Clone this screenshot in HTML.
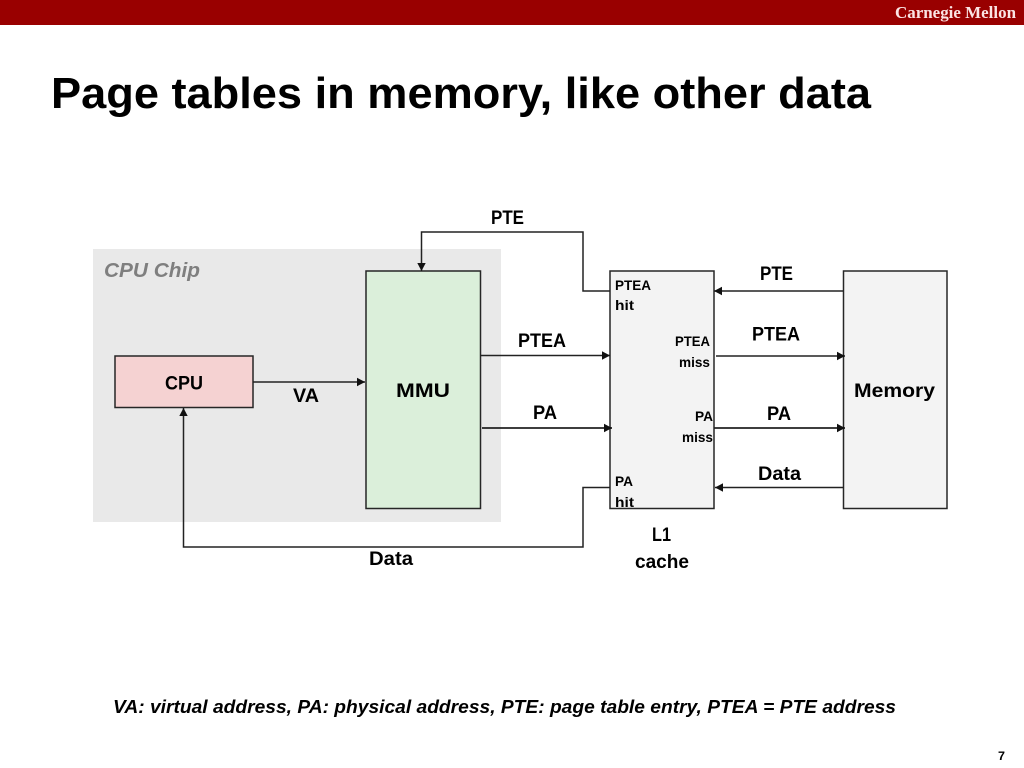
<!DOCTYPE html>
<html>
<head>
<meta charset="utf-8">
<title>Page tables in memory, like other data</title>
<style>
html,body{margin:0;padding:0;background:#fff;width:1024px;height:768px;overflow:hidden}
svg{display:block}
text{font-family:"Liberation Sans",sans-serif;font-weight:bold;fill:#000}
.l{font-size:19px}
.s{font-size:14px}
</style>
</head>
<body>
<svg width="1024" height="768" viewBox="0 0 1024 768" xmlns="http://www.w3.org/2000/svg">
<defs>
<marker id="a" markerUnits="userSpaceOnUse" markerWidth="10" markerHeight="10" refX="8" refY="5" orient="auto"><path d="M0,0.8 L8,5 L0,9.2 Z" fill="#111"/></marker>
</defs>
<rect x="0" y="0" width="1024" height="25" fill="#990000"/>
<text x="895" y="18" textLength="121" lengthAdjust="spacingAndGlyphs" style="font-family:'Liberation Serif',serif;font-size:16.500px;fill:#fbe4e4">Carnegie Mellon</text>
<text x="51" y="108" textLength="820" lengthAdjust="spacingAndGlyphs" style="font-size:44px">Page tables in memory, like other data</text>

<rect x="93" y="249" width="408" height="273" fill="#e9e9e9"/>
<text x="104" y="277" textLength="96" lengthAdjust="spacingAndGlyphs" style="font-size:20px;font-style:italic;fill:#7f7f7f">CPU Chip</text>

<rect x="115" y="356" width="138" height="51.500" fill="#f5d2d2" stroke="#262626" stroke-width="1.500"/>
<rect x="366" y="271" width="114.500" height="237.500" fill="#dbefda" stroke="#262626" stroke-width="1.500"/>
<rect x="610" y="271" width="104" height="237.500" fill="#f3f3f3" stroke="#262626" stroke-width="1.500"/>
<rect x="843.500" y="271" width="103.500" height="237.500" fill="#f3f3f3" stroke="#262626" stroke-width="1.500"/>

<g fill="none" stroke="#222" stroke-width="1.500">
<path d="M253,382 H365" marker-end="url(#a)"/>
<path d="M610,291 H583 V232 H421.500 V271" marker-end="url(#a)"/>
<path d="M480,355.500 H610" marker-end="url(#a)"/>
<path d="M482,428 H612" stroke-width="1.800" marker-end="url(#a)"/>
<path d="M610,487.500 H583 V547 H183.500 V408" marker-end="url(#a)"/>
<path d="M843.500,291 H714" marker-end="url(#a)"/>
<path d="M716,356 H845" marker-end="url(#a)"/>
<path d="M714,428 H845" stroke-width="1.800" marker-end="url(#a)"/>
<path d="M844,487.500 H715" marker-end="url(#a)"/>
</g>

<text class="l" x="165" y="389.500" textLength="38" lengthAdjust="spacingAndGlyphs">CPU</text>
<text class="l" x="396" y="397" textLength="54" lengthAdjust="spacingAndGlyphs">MMU</text>
<text class="l" x="854" y="397" textLength="81" lengthAdjust="spacingAndGlyphs">Memory</text>
<text class="l" x="293" y="402" textLength="26" lengthAdjust="spacingAndGlyphs">VA</text>
<text class="l" x="491" y="224" textLength="33" lengthAdjust="spacingAndGlyphs">PTE</text>
<text class="l" x="518" y="347" textLength="48" lengthAdjust="spacingAndGlyphs">PTEA</text>
<text class="l" x="533" y="419" textLength="24" lengthAdjust="spacingAndGlyphs">PA</text>
<text class="l" x="369" y="565" textLength="44" lengthAdjust="spacingAndGlyphs">Data</text>
<text class="l" x="760" y="280" textLength="33" lengthAdjust="spacingAndGlyphs">PTE</text>
<text class="l" x="752" y="340.500" textLength="48" lengthAdjust="spacingAndGlyphs">PTEA</text>
<text class="l" x="767" y="420" textLength="24" lengthAdjust="spacingAndGlyphs">PA</text>
<text class="l" x="758" y="480" textLength="43" lengthAdjust="spacingAndGlyphs">Data</text>
<text class="l" x="652" y="541" textLength="19" lengthAdjust="spacingAndGlyphs">L1</text>
<text class="l" x="635" y="568" textLength="54" lengthAdjust="spacingAndGlyphs">cache</text>

<text class="s" x="615" y="290" textLength="36" lengthAdjust="spacingAndGlyphs">PTEA</text>
<text class="s" x="615" y="310" textLength="19" lengthAdjust="spacingAndGlyphs">hit</text>
<text class="s" x="675" y="346" textLength="35" lengthAdjust="spacingAndGlyphs">PTEA</text>
<text class="s" x="679" y="367" textLength="31" lengthAdjust="spacingAndGlyphs">miss</text>
<text class="s" x="695" y="421" textLength="18" lengthAdjust="spacingAndGlyphs">PA</text>
<text class="s" x="682" y="442" textLength="31" lengthAdjust="spacingAndGlyphs">miss</text>
<text class="s" x="615" y="486" textLength="18" lengthAdjust="spacingAndGlyphs">PA</text>
<text class="s" x="615" y="507" textLength="19" lengthAdjust="spacingAndGlyphs">hit</text>

<text x="113" y="713" textLength="783" lengthAdjust="spacingAndGlyphs" style="font-size:18.500px;font-style:italic">VA: virtual address, PA: physical address, PTE: page table entry, PTEA = PTE address</text>
<text x="998" y="760" textLength="7" lengthAdjust="spacingAndGlyphs" style="font-size:12px">7</text>
</svg>
</body>
</html>
